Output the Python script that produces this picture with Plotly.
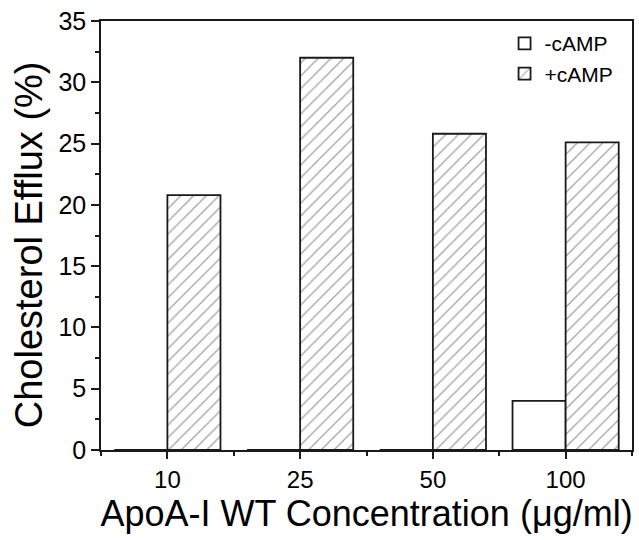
import plotly.graph_objects as go

# Cholesterol efflux at each ApoA-I WT concentration, with and without cAMP
concentrations = ["10", "25", "50", "100"]
efflux_minus_camp = [0, 0, 0, 4.0]
efflux_plus_camp = [20.8, 32.0, 25.8, 25.1]

positions = list(range(len(concentrations)))
font_family = "Liberation Sans, Arial, sans-serif"
ink = "#1a1a1a"

fig = go.Figure()
fig.add_trace(go.Bar(
    name="-cAMP", x=positions, y=efflux_minus_camp,
    marker=dict(color="white", line=dict(color=ink, width=1.8)),
))
fig.add_trace(go.Bar(
    name="+cAMP", x=positions, y=efflux_plus_camp,
    marker=dict(
        color="white",
        line=dict(color=ink, width=1.8),
        pattern=dict(shape="/", fgcolor="#444444", bgcolor="white",
                     size=9, solidity=0.14),
    ),
))

fig.update_layout(
    width=639, height=540,
    margin=dict(l=101, r=5, t=21, b=90),
    paper_bgcolor="white", plot_bgcolor="white",
    barmode="group", bargap=0.2, bargroupgap=0,
    font=dict(family=font_family, color="black"),
    legend=dict(
        x=0.76, y=0.995, xanchor="left", yanchor="top",
        bgcolor="rgba(0,0,0,0)", font=dict(size=21),
        traceorder="normal", tracegroupgap=0,
    ),
    annotations=[dict(
        text="Cholesterol Efflux (%)", textangle=-90,
        xref="paper", yref="paper", x=-0.135, y=0.478,
        xanchor="center", yanchor="middle", showarrow=False,
        font=dict(size=38),
    )],
)

fig.update_xaxes(
    range=[-0.5, len(concentrations) - 0.5],
    tickmode="array", tickvals=positions, ticktext=concentrations,
    ticks="outside", ticklen=7, tickwidth=1.5, tickcolor=ink,
    tickfont=dict(size=24),
    minor=dict(tickmode="array",
               tickvals=[p - 0.5 for p in positions] + [positions[-1] + 0.5],
               ticks="outside", ticklen=4, tickwidth=1.5, tickcolor=ink),
    showline=True, linecolor=ink, linewidth=1.5, mirror=True,
    showgrid=False, zeroline=False,
    title=dict(text="ApoA-I WT Concentration (\u03bcg/ml)", font=dict(size=36), standoff=6),
)
fig.update_yaxes(
    range=[0, 35], dtick=5, tick0=0,
    ticks="outside", ticklen=8, tickwidth=1.5, tickcolor=ink,
    tickfont=dict(size=25),
    minor=dict(dtick=2.5, ticks="outside", ticklen=4, tickwidth=1.5, tickcolor=ink),
    showline=True, linecolor=ink, linewidth=1.5, mirror=True,
    showgrid=False, zeroline=False,
)

fig.write_html("out.html")
